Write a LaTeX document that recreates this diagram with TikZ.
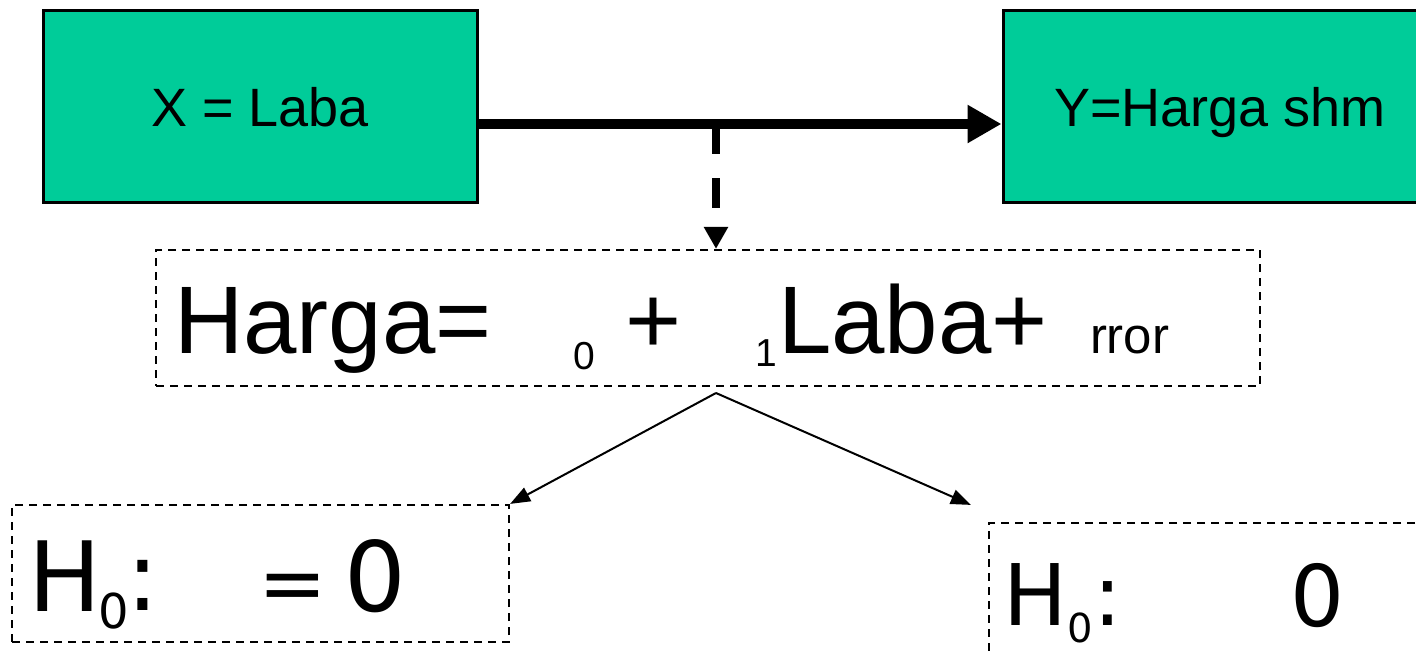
\documentclass[tikz,border=0pt]{standalone}
\usepackage{fontspec}
\setmainfont{Liberation Sans}
\newfontfamily\dejavu{DejaVu Sans}
\usetikzlibrary{arrows.meta}
\definecolor{boxgreen}{RGB}{0,204,153}
\begin{document}
\begin{tikzpicture}[x=1pt,y=-1pt,
  greenbox/.style={draw=black,line width=3pt,fill=boxgreen,minimum width=434pt,minimum height=192pt,inner sep=0pt,text height=40pt,text depth=0pt,font=\fontsize{54}{60}\selectfont},
  dashbox/.style={draw=black,line width=2.2pt,dash pattern=on 8pt off 6pt,inner sep=0pt},
  txt/.style={anchor=base west,inner sep=0pt,outer sep=0pt},
  bigA/.style={txt,font=\fontsize{96}{110}\selectfont},
  smallA/.style={txt,font=\fontsize{39}{44}\selectfont},
  errA/.style={txt,font=\fontsize{51}{56}\selectfont},
  hbig/.style={txt,font=\dejavu\fontsize{97}{110}\selectfont},
  heq/.style={txt,font=\dejavu\fontsize{82}{100}\selectfont},
  hsub/.style={txt,font=\dejavu\fontsize{48}{52}\selectfont},
  hbigR/.style={txt,font=\dejavu\fontsize{85}{100}\selectfont},
  hsubR/.style={txt,font=\dejavu\fontsize{40}{46}\selectfont},
  mainarrow/.style={line width=10pt,-{Triangle[length=34pt,width=36pt]}},
  dasharrow/.style={line width=8pt,dash pattern=on 30pt off 24pt,-{Triangle[length=22pt,width=23pt]}},
  thinarrow/.style={line width=2pt,-{Triangle[length=20pt,width=15pt]}}
]
\useasboundingbox (0,0) rectangle (1416,656);

% top boxes
\node[greenbox] (bx) at (260,106) {X = Laba};
\node[greenbox] (by) at (1220,106) {Y=Harga shm};
\draw[mainarrow] ([yshift=-18pt]bx.east) -- ([yshift=-18pt]by.west);
\coordinate (mid) at (716,124);

% equation box
\node[dashbox,minimum width=1104pt,minimum height=136pt] (eq) at (708,318) {};
\draw[dasharrow] (mid) -- (mid |- eq.north);
\node[bigA] (t1) at (174,353) {Harga=};
\node[smallA] (t2) at (573,369) {0};
\node[bigA] (t3) at (625,353) {+};
\node[smallA] (t4) at (755,366) {1};
\node[bigA] (t5) at (778,353) {Laba+};
\node[errA] (t6) at (1090,353) {rror};

% hypothesis boxes
\node[dashbox,minimum width=497pt,minimum height=137pt] (ha) at (260.5,573.5) {};
\node[dashbox,minimum width=500pt,minimum height=140pt] (hb) at (1239,593) {};
\coordinate (split) at (716,393);
\draw[thinarrow] (split) -- (ha.north east);
\draw[thinarrow] (split) -- ([xshift=-17pt,yshift=17pt]hb.north west);

\node[hbig] (a1) at (28,611) {H};
\node[hsub] (a2) at (98,628) {0};
\node[hbig] (a3) at (126,610) {:};
\node[heq] (a4) at (258,611) {=};
\node[hbig] (a5) at (344,611) {0};

\node[hbigR] (b1) at (1003.5,625) {H};
\node[hsubR] (b2) at (1067,642) {0};
\node[hbigR] (b3) at (1093,625) {:};
\node[hbigR] (b4) at (1290,626) {0};
\end{tikzpicture}
\end{document}
